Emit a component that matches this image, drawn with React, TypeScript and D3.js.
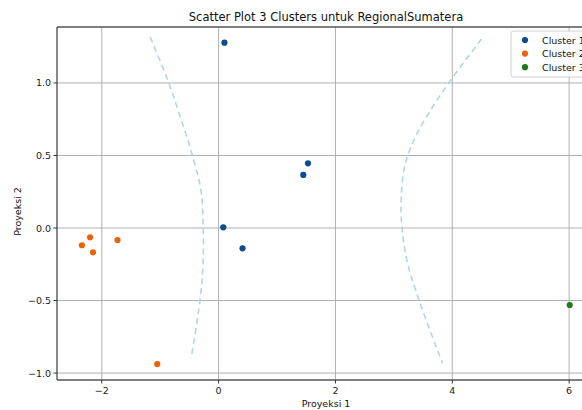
import React from 'react';
import * as d3 from 'd3';

// cluster points (Proyeksi 1, Proyeksi 2)
const cluster1 = [
  [0.10, 1.278], [1.53, 0.446], [1.45, 0.366], [0.08, 0.005], [0.41, -0.14],
];
const cluster2 = [
  [-2.20, -0.064], [-2.34, -0.119], [-2.15, -0.168], [-1.73, -0.083], [-1.05, -0.938],
];
const cluster3 = [
  [6.01, -0.531],
];

// dashed boundary curves
const boundaryLeft = [
  [-1.17, 1.317], [-0.865, 1.014], [-0.66, 0.772], [-0.45, 0.503], [-0.30, 0.255],
  [-0.265, 0.0], [-0.265, -0.234], [-0.317, -0.497], [-0.47, -0.897],
];
const boundaryRight = [
  [4.50, 1.303], [4.00, 1.034], [3.62, 0.807], [3.36, 0.621], [3.19, 0.434],
  [3.125, 0.193], [3.14, 0.0], [3.23, -0.234], [3.43, -0.497], [3.83, -0.93],
];

const clusterNames = ['Cluster 1', 'Cluster 2', 'Cluster 3'];
const clusterColors = ['#0b4d8f', '#e8640c', '#1c7a1c'];
const xTicks = [-2, 0, 2, 4, 6];
const yTicks = [-1.0, -0.5, 0.0, 0.5, 1.0];

const W = 582;
const H = 410;
const margin = { top: 27, left: 57, right: 596, bottom: 380 };
const font = '"DejaVu Sans", sans-serif';

const App = () => {
  const x = d3.scaleLinear().domain([-2.766, 6.46]).range([margin.left, margin.right]);
  const y = d3.scaleLinear().domain([-1.048, 1.386]).range([margin.bottom, margin.top]);

  const line = d3.line<number[]>()
    .x(d => x(d[0]))
    .y(d => y(d[1]))
    .curve(d3.curveCatmullRom);

  const clusters = [cluster1, cluster2, cluster3];
  const midX = (margin.left + margin.right) / 2;
  const midY = (margin.top + margin.bottom) / 2;

  return (
    <div style={{ position: 'fixed', left: 0, top: 0 }}>
      <svg width={W} height={H} style={{ display: 'block', background: '#fff' }} fontFamily={font}>
        <defs>
          <clipPath id="plot">
            <rect x={margin.left} y={margin.top} width={margin.right - margin.left} height={margin.bottom - margin.top} />
          </clipPath>
        </defs>

        {/* grid */}
        <g stroke="#b0b0b0" strokeWidth={1}>
          {xTicks.map(t => (
            <line key={'gx' + t} x1={x(t)} x2={x(t)} y1={margin.top} y2={margin.bottom} />
          ))}
          {yTicks.map(t => (
            <line key={'gy' + t} x1={margin.left} x2={margin.right} y1={y(t)} y2={y(t)} />
          ))}
        </g>

        <g clipPath="url(#plot)">
          {[boundaryLeft, boundaryRight].map((b, i) => (
            <path key={i} d={line(b) || ''} fill="none" stroke="#add8e6" strokeWidth={1.6} strokeDasharray="6,4" />
          ))}
          {clusters.map((pts, ci) =>
            pts.map((p, i) => (
              <circle key={ci + '-' + i} cx={x(p[0])} cy={y(p[1])} r={3.1} fill={clusterColors[ci]} />
            ))
          )}
        </g>

        {/* spines */}
        <g stroke="#555" strokeWidth={1.4} fill="none">
          <line x1={margin.left} x2={margin.left} y1={margin.top} y2={margin.bottom} />
          <line x1={margin.left} x2={margin.right} y1={margin.bottom} y2={margin.bottom} />
          <line x1={margin.left} x2={margin.right} y1={margin.top} y2={margin.top} />
        </g>

        {/* ticks */}
        <g fontSize={9.5} fill="#222">
          {xTicks.map(t => (
            <g key={'tx' + t}>
              <line x1={x(t)} x2={x(t)} y1={margin.bottom} y2={margin.bottom + 3.5} stroke="#333" />
              <text x={x(t)} y={margin.bottom + 14} textAnchor="middle">{d3.format('')(t).replace('-', '\u2212')}</text>
            </g>
          ))}
          {yTicks.map(t => (
            <g key={'ty' + t}>
              <line x1={margin.left - 3.5} x2={margin.left} y1={y(t)} y2={y(t)} stroke="#333" />
              <text x={margin.left - 6} y={y(t) + 3.5} textAnchor="end">{d3.format('.1f')(t).replace('-', '\u2212')}</text>
            </g>
          ))}
        </g>

        {/* labels */}
        <text x={326} y={21} textAnchor="middle" fontSize={11.5} fill="#111">
          Scatter Plot 3 Clusters untuk RegionalSumatera
        </text>
        <text x={326} y={407} textAnchor="middle" fontSize={9.5} fill="#111">Proyeksi 1</text>
        <text transform={`translate(21,${midY + 8}) rotate(-90)`} textAnchor="middle" fontSize={9.5} fill="#111">
          Proyeksi 2
        </text>

        {/* legend */}
        <g>
          <rect x={511} y={31} width={80} height={46} rx={2.5} fill="#fff" fillOpacity={0.85} stroke="#d0d0d0" />
          {clusterNames.map((n, i) => (
            <g key={n}>
              <circle cx={525} cy={40 + i * 13.6} r={3.1} fill={clusterColors[i]} />
              <text x={542} y={43.5 + i * 13.6} fontSize={9.5} fill="#111">{n}</text>
            </g>
          ))}
        </g>
      </svg>
    </div>
  );
};

export default App;
